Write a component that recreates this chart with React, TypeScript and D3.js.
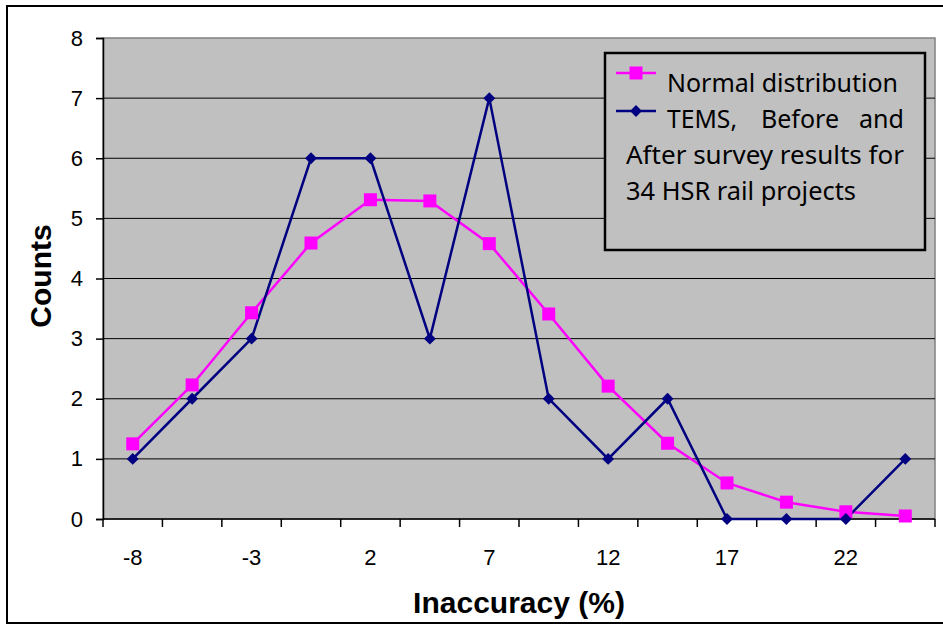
import { useEffect, useRef } from "react";
import * as d3 from "d3";

const categories = ["-8", "-5.5", "-3", "-0.5", "2", "4.5", "7", "9.5", "12", "14.5", "17", "19.5", "22", "24.5"];
const shownLabels = ["-8", "-3", "2", "7", "12", "17", "22"];
const normalValues = [1.25, 2.23, 3.43, 4.59, 5.31, 5.29, 4.58, 3.41, 2.21, 1.26, 0.6, 0.28, 0.12, 0.05];
const temsValues = [1, 2, 3, 6, 6, 3, 7, 2, 1, 2, 0, 0, 0, 1];
const yTicks = [0, 1, 2, 3, 4, 5, 6, 7, 8];

const W = 943;
const H = 624;

export default function App() {
  const svgRef = useRef<SVGSVGElement>(null);

  useEffect(() => {
    if (!svgRef.current) return;
    const svg = d3.select(svgRef.current);
    svg.selectAll("*").remove();

    const margin = { top: 38, right: 8, bottom: 105, left: 103 };
    const width = W - margin.left - margin.right;
    const height = H - margin.top - margin.bottom;
    const axisFont = "Liberation Sans, Arial, sans-serif";

    // outer frame
    svg
      .append("rect")
      .attr("x", 7)
      .attr("y", 6)
      .attr("width", W)
      .attr("height", H - 7)
      .attr("fill", "white")
      .attr("stroke", "black")
      .attr("stroke-width", 2);

    const chart = svg
      .append("g")
      .attr("transform", `translate(${margin.left},${margin.top})`);

    const xScale = d3.scaleBand().domain(categories).range([0, width]);
    const yScale = d3.scaleLinear().domain([0, 8]).range([height, 0]);
    const cx = (c: string) => (xScale(c) as number) + xScale.bandwidth() / 2;

    // plot background
    chart
      .append("rect")
      .attr("width", width)
      .attr("height", height)
      .attr("fill", "#c0c0c0")
      .attr("stroke", "#808080")
      .attr("stroke-width", 1.5);

    // gridlines
    chart
      .selectAll(".grid")
      .data(yTicks.filter((t) => t > 0 && t < 8))
      .enter()
      .append("line")
      .attr("x1", 0)
      .attr("x2", width)
      .attr("y1", (d) => yScale(d))
      .attr("y2", (d) => yScale(d))
      .attr("stroke", "black")
      .attr("stroke-width", 1);

    // y axis
    const yAxis = chart
      .append("g")
      .call(d3.axisLeft(yScale).tickValues(yTicks).tickSize(7).tickPadding(13).tickFormat(d3.format("d")));
    yAxis.select(".domain").attr("stroke", "black").attr("stroke-width", 1.5);
    yAxis.selectAll(".tick line").attr("stroke-width", 1.5);
    yAxis.selectAll("text").attr("font-family", axisFont).attr("font-size", 22).attr("fill", "black");

    // x axis: ticks at band boundaries
    const xAxis = chart.append("g").attr("transform", `translate(0,${height})`);
    xAxis
      .append("line")
      .attr("x1", 0)
      .attr("x2", width)
      .attr("stroke", "black")
      .attr("stroke-width", 1.5);
    const bounds = categories.map((c) => xScale(c) as number).concat([width]);
    xAxis
      .selectAll(".xt")
      .data(bounds)
      .enter()
      .append("line")
      .attr("x1", (d) => d)
      .attr("x2", (d) => d)
      .attr("y1", 0)
      .attr("y2", 8)
      .attr("stroke", "black")
      .attr("stroke-width", 1.5);
    xAxis
      .selectAll(".xl")
      .data(shownLabels)
      .enter()
      .append("text")
      .attr("x", (d) => cx(d))
      .attr("y", 46)
      .attr("text-anchor", "middle")
      .attr("font-family", axisFont)
      .attr("font-size", 22)
      .text((d) => d);

    // axis titles
    svg
      .append("text")
      .attr("x", 519)
      .attr("y", 613)
      .attr("text-anchor", "middle")
      .attr("font-family", axisFont)
      .attr("font-weight", "bold")
      .attr("font-size", 30)
      .text("Inaccuracy (%)");
    svg
      .append("text")
      .attr("transform", "translate(51,276) rotate(-90)")
      .attr("text-anchor", "middle")
      .attr("font-family", axisFont)
      .attr("font-weight", "bold")
      .attr("font-size", 30)
      .text("Counts");

    // lines
    const line = d3
      .line<number>()
      .x((_d, i) => cx(categories[i]))
      .y((d) => yScale(d));

    chart
      .append("path")
      .datum(normalValues)
      .attr("fill", "none")
      .attr("stroke", "#ff00ff")
      .attr("stroke-width", 2.5)
      .attr("d", line);

    chart
      .append("path")
      .datum(temsValues)
      .attr("fill", "none")
      .attr("stroke", "#000080")
      .attr("stroke-width", 2.5)
      .attr("d", line);

    chart
      .selectAll(".sq")
      .data(normalValues)
      .enter()
      .append("rect")
      .attr("x", (_d, i) => cx(categories[i]) - 6.5)
      .attr("y", (d) => yScale(d) - 6.5)
      .attr("width", 13)
      .attr("height", 13)
      .attr("fill", "#ff00ff");

    const diamond = d3.symbol().type(d3.symbolDiamond2).size(90);
    chart
      .selectAll(".dm")
      .data(temsValues)
      .enter()
      .append("path")
      .attr("d", diamond)
      .attr("transform", (d, i) => `translate(${cx(categories[i])},${yScale(d)})`)
      .attr("fill", "#000080");

    // legend
    const legend = svg.append("g");
    legend
      .append("rect")
      .attr("x", 605)
      .attr("y", 53)
      .attr("width", 320)
      .attr("height", 197)
      .attr("fill", "#c0c0c0")
      .attr("stroke", "black")
      .attr("stroke-width", 2.5);

    const legendFont = "Noto Sans, Open Sans, sans-serif";
    legend.append("line").attr("x1", 616).attr("x2", 656).attr("y1", 73).attr("y2", 73).attr("stroke", "#ff00ff").attr("stroke-width", 2.5);
    legend.append("rect").attr("x", 629.5).attr("y", 66.5).attr("width", 13).attr("height", 13).attr("fill", "#ff00ff");
    legend.append("line").attr("x1", 616).attr("x2", 656).attr("y1", 111).attr("y2", 111).attr("stroke", "#000080").attr("stroke-width", 2.5);
    legend.append("path").attr("d", diamond).attr("transform", "translate(636,111)").attr("fill", "#000080");

    const addText = (x: number, y: number, s: string, len?: number) => {
      const t = legend
        .append("text")
        .attr("x", x)
        .attr("y", y)
        .attr("font-family", legendFont)
        .attr("font-size", 25)
        .attr("fill", "black")
        .text(s);
      if (len) t.attr("textLength", len).attr("lengthAdjust", "spacingAndGlyphs");
    };
    addText(667, 92, "Normal distribution", 231);
    addText(667, 128, "TEMS,", 70);
    addText(761, 128, "Before", 78);
    addText(859, 128, "and", 45);
    addText(626, 164, "After survey results for", 278);
    addText(626, 200, "34 HSR rail projects", 230);
  }, []);

  return (
    <div style={{ position: "absolute", left: 0, top: 0 }}>
      <svg ref={svgRef} width={W} height={H} style={{ display: "block" }} />
    </div>
  );
}
